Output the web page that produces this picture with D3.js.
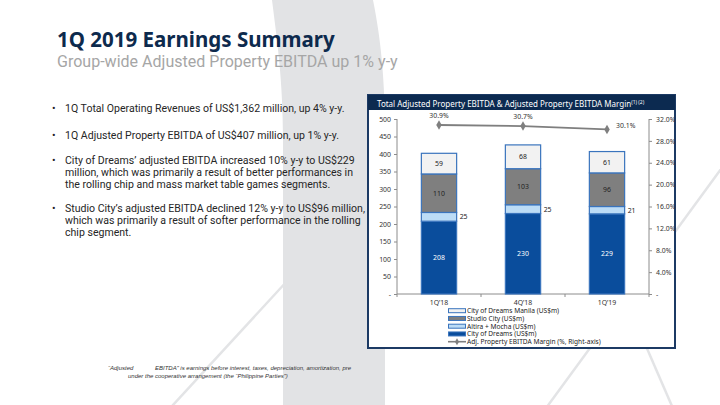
<!DOCTYPE html>
<html><head><meta charset="utf-8">
<script src="https://cdn.jsdelivr.net/npm/d3@7/dist/d3.min.js"></script>
<style>
html,body{margin:0;padding:0;background:#fff;}
svg{display:block;}
text{font-family:"Noto Sans","Open Sans",sans-serif;}
</style></head>
<body>
<svg id="c" width="720" height="405"></svg>
<script>
// ---- data ----
const categories = ["1Q’18", "4Q’18", "1Q’19"];
const cityOfDreams = [208, 230, 229];
const altiraMocha = [25, 25, 21];
const studioCity = [110, 103, 96];
const cityOfDreamsManila = [59, 68, 61];
const marginPct = [30.9, 30.7, 30.1];
const leftTicks = [0, 50, 100, 150, 200, 250, 300, 350, 400, 450, 500];
const rightTicks = [0, 4, 8, 12, 16, 20, 24, 28, 32];
const seriesNames = ["City of Dreams (US$m)", "Altira + Mocha (US$m)", "Studio City (US$m)", "City of Dreams Manila (US$m)"];
const lineName = "Adj. Property EBITDA Margin (%, Right-axis)";
const bullets = [
  ["1Q Total Operating Revenues of US$1,362 million, up 4% y-y."],
  ["1Q Adjusted Property EBITDA of US$407 million, up 1% y-y."],
  ["City of Dreams’ adjusted EBITDA increased 10% y-y to US$229",
   "million, which was primarily a result of better performances in",
   "the rolling chip and mass market table games segments."],
  ["Studio City’s adjusted EBITDA declined 12% y-y to US$96 million,",
   "which was primarily a result of softer performance in the rolling",
   "chip segment."]
];

const svg = d3.select("#c");
function fit(sel, w) {
  const n = sel.node(); const fs = parseFloat(sel.attr("font-size"));
  const cur = n.getComputedTextLength();
  sel.attr("font-size", (fs * w / cur).toFixed(2));
  return fs * w / cur;
}

// ---- background ----
const bg = svg.append("g");
bg.append("line").attr("x1", 150).attr("y1", 430).attr("x2", 300).attr("y2", 267)
  .attr("stroke", "#e3e4e6").attr("stroke-width", 2.5);
bg.append("line").attr("x1", 735).attr("y1", 150).attr("x2", 530).attr("y2", 430)
  .attr("stroke", "#e3e4e6").attr("stroke-width", 2.5);
bg.append("line").attr("x1", 600).attr("y1", 240).attr("x2", 678).attr("y2", 420)
  .attr("stroke", "#e3e4e6").attr("stroke-width", 2.5);
bg.append("path")
  .attr("d", "M272,0 L373,0 C381,40 385,80 385,140 L385,405 L283,405 L283,140 C283,80 277,40 272,0 Z")
  .attr("fill", "#e2e3e5");

// ---- title ----
const t1 = svg.append("text").attr("x", 57).attr("y", 47).attr("font-size", 20)
  .attr("font-weight", "bold").attr("fill", "#0d2a4d").text("1Q 2019 Earnings Summary");
fit(t1, 278);
const t2 = svg.append("text").attr("x", 57).attr("y", 67).attr("font-size", 14)
  .style("font-family", "Roboto, sans-serif")
  .attr("fill", "#a6a6a6").text("Group-wide Adjusted Property EBITDA up 1% y-y");
fit(t2, 341);

// ---- bullets ----
const bfam = "Roboto, 'Liberation Sans', sans-serif";
const bStart = [112, 139, 164, 212];
const probe = svg.append("text").attr("font-size", 10).style("font-family", bfam).text(bullets[0][0]);
const bfs = 10 * 280 / probe.node().getComputedTextLength();
probe.remove();
bullets.forEach((lines, i) => {
  svg.append("text").attr("x", 52).attr("y", bStart[i]).attr("font-size", bfs)
    .style("font-family", bfam).attr("fill", "#222").text("•");
  lines.forEach((l, j) => {
    svg.append("text").attr("x", 65).attr("y", bStart[i] + j * 12).attr("font-size", bfs)
      .style("font-family", bfam).attr("fill", "#262626").text(l);
  });
});

// ---- footnote ----
const ffam = "'Liberation Sans', Arial, sans-serif";
const fn = svg.append("g").attr("font-style", "italic").attr("fill", "#333");
const f2 = fn.append("text").attr("x", 128).attr("y", 378).attr("font-size", 5.5)
  .style("font-family", ffam)
  .text("under the cooperative arrangement (the “Philippine Parties”)");
const ffs = fit(f2, 160);
const f1 = fn.append("text").attr("y", 370).attr("font-size", ffs).style("font-family", ffam);
f1.append("tspan").attr("x", 108).text("“Adjusted");
f1.append("tspan").attr("x", 155).text("EBITDA” is earnings before interest, taxes, depreciation, amortization, pre");

// ---- chart box ----
const box = svg.append("g");
box.append("rect").attr("x", 368).attr("y", 95).attr("width", 307).attr("height", 253)
  .attr("fill", "#fff").attr("stroke", "#1c3a64").attr("stroke-width", 2);
box.append("rect").attr("x", 368).attr("y", 95).attr("width", 307).attr("height", 15)
  .attr("fill", "#0c2a50");
const ht = box.append("text").attr("x", 377).attr("y", 106.5).attr("font-size", 8).attr("fill", "#fff");
ht.append("tspan").text("Total Adjusted Property EBITDA & Adjusted Property EBITDA Margin");
ht.append("tspan").attr("font-size", 5).attr("dy", -2.5).text("(1) (2)");

// ---- scales ----
const x = d3.scaleBand().domain(categories).range([397, 649]).paddingInner(0.58).paddingOuter(0.29);
const yL = d3.scaleLinear().domain([0, 500]).range([294, 119]);
const yR = d3.scaleLinear().domain([0, 32]).range([294, 119]);
const axisCol = "#8c8c8c";
const fs = 6.9;

// axes
const gl = svg.append("g").attr("transform", "translate(397,0)")
  .call(d3.axisLeft(yL).tickValues(leftTicks).tickSize(3).tickPadding(3)
    .tickFormat(d => d === 0 ? "-" : d));
const gr = svg.append("g").attr("transform", "translate(649,0)")
  .call(d3.axisRight(yR).tickValues(rightTicks).tickSize(3).tickPadding(4)
    .tickFormat(d => d === 0 ? "-" : d.toFixed(1) + "%"));
[gl, gr].forEach(g => {
  g.select(".domain").remove();
  g.selectAll(".tick line").attr("stroke", axisCol);
  g.selectAll("text").attr("font-size", fs).attr("fill", "#333")
    .style("font-family", "'Noto Sans',sans-serif");
});
svg.append("line").attr("x1", 397).attr("x2", 397).attr("y1", yL(500)).attr("y2", yL(0)).attr("stroke", axisCol);
svg.append("line").attr("x1", 649).attr("x2", 649).attr("y1", yR(32)).attr("y2", yR(0)).attr("stroke", axisCol);

// x axis
const gx = svg.append("g").attr("transform", "translate(0,294)");
gx.append("line").attr("x1", 397).attr("x2", 649).attr("stroke", axisCol);
const bounds = [397].concat(categories.slice(1).map(c => x(c) - x.step() * x.paddingInner() / 2)).concat([649]);
bounds.forEach(b => gx.append("line").attr("x1", b).attr("x2", b).attr("y1", 0).attr("y2", 3).attr("stroke", axisCol));
categories.forEach(c => gx.append("text").attr("x", x(c) + x.bandwidth() / 2).attr("y", 11)
  .attr("text-anchor", "middle").attr("font-size", fs).attr("fill", "#333").text(c));

// ---- bars ----
const rows = categories.map((c, i) => ({cat: c, s0: cityOfDreams[i], s1: altiraMocha[i], s2: studioCity[i], s3: cityOfDreamsManila[i]}));
const stack = d3.stack().keys(["s0", "s1", "s2", "s3"])(rows);
const fills = ["#0a4d9c", "#bcdcf6", "#7f7f7f", "#f2f2f2"];
const stroke = "#3a74bd";
stack.forEach((layer, k) => {
  svg.append("g").selectAll("rect").data(layer).join("rect")
    .attr("x", d => x(d.data.cat)).attr("width", x.bandwidth())
    .attr("y", d => yL(d[1])).attr("height", d => yL(d[0]) - yL(d[1]))
    .attr("fill", fills[k]).attr("stroke", stroke).attr("stroke-width", 1.2);
  svg.append("g").selectAll("text").data(layer).join("text")
    .attr("x", d => k === 1 ? x(d.data.cat) + x.bandwidth() + 3 : x(d.data.cat) + x.bandwidth() / 2)
    .attr("y", d => (yL(d[0]) + yL(d[1])) / 2 + 2.4)
    .attr("text-anchor", k === 1 ? "start" : "middle")
    .attr("font-size", fs).attr("fill", k === 0 ? "#fff" : "#222")
    .text(d => d.data["s" + k]);
});

// ---- margin line ----
const pts = categories.map((c, i) => [x(c) + x.bandwidth() / 2, yR(marginPct[i]), marginPct[i]]);
svg.append("path").attr("d", d3.line()(pts.map(p => [p[0], p[1]])))
  .attr("fill", "none").attr("stroke", "#7f7f7f").attr("stroke-width", 1.8);
const diamond = d3.symbol().type(d3.symbolDiamond).size(26);
pts.forEach((p, i) => {
  svg.append("path").attr("d", diamond()).attr("transform", `translate(${p[0]},${p[1]})`).attr("fill", "#7f7f7f");
  const last = i === pts.length - 1;
  svg.append("text").attr("x", last ? p[0] + 9 : p[0]).attr("y", last ? p[1] - 1.5 : p[1] - 7)
    .attr("text-anchor", last ? "start" : "middle").attr("font-size", fs).attr("fill", "#333")
    .text(p[2].toFixed(1) + "%");
});

// ---- legend ----
const lg = svg.append("g");
const legendOrder = [3, 2, 1, 0];
legendOrder.forEach((k, r) => {
  const yy = 310.7 + r * 7.75;
  lg.append("rect").attr("x", 448.5).attr("y", yy - 2).attr("width", 17).attr("height", 4)
    .attr("fill", fills[k]).attr("stroke", stroke).attr("stroke-width", 1);
  lg.append("text").attr("x", 467).attr("y", yy + 2.4).attr("font-size", 6.6).attr("fill", "#222").text(seriesNames[k]);
});
const ly = 310.7 + 4 * 7.75;
lg.append("line").attr("x1", 448).attr("x2", 466).attr("y1", ly).attr("y2", ly).attr("stroke", "#7f7f7f").attr("stroke-width", 1.6);
lg.append("path").attr("d", d3.symbol().type(d3.symbolDiamond).size(14)()).attr("transform", `translate(457,${ly})`).attr("fill", "#7f7f7f");
lg.append("text").attr("x", 467).attr("y", ly + 2.4).attr("font-size", 6.6).attr("fill", "#222").text(lineName);
</script>
</body></html>
